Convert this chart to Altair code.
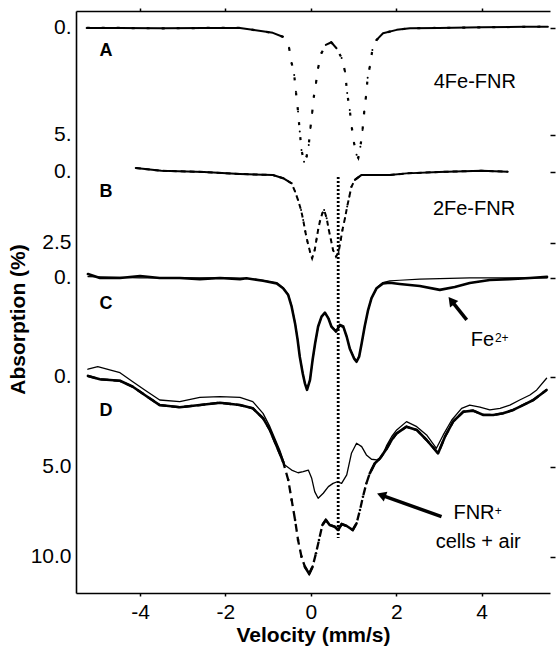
import altair as alt
import pandas as pd

FONT = "Liberation Sans"

# ---------------- data (velocity mm/s, absorption %) ----
A_v = [-5.25, -4.5, -3.5, -2.5, -1.66, -0.89, -0.66, -0.51, -0.45, -0.39, -0.35, -0.30, -0.26,
       -0.22, -0.16, -0.10, -0.05, -0.01, 0.03, 0.07, 0.12, 0.17, 0.25, 0.35, 0.48, 0.60, 0.72,
       0.80, 0.85, 0.91, 0.96, 1.01, 1.07, 1.11, 1.16, 1.21, 1.25, 1.29, 1.33, 1.38, 1.44, 1.54,
       1.69, 2.01, 2.32, 3.0, 4.0, 5.0, 5.55]
A_abs = [0.0, 0.0, 0.02, 0.0, 0.0, 0.23, 0.41, 0.93, 1.64, 2.20, 2.98, 3.91, 4.84,
         5.70, 6.25, 6.01, 5.47, 4.67, 3.97, 3.21, 2.57, 1.87, 1.17, 0.79, 0.67, 0.95, 1.40,
         2.04, 3.04, 3.83, 4.67, 5.37, 5.93, 6.07, 5.55, 4.77, 3.91, 3.21, 2.33, 1.81, 1.03, 0.56,
         0.25, 0.09, 0.01, 0.0, -0.03, -0.05, -0.06]

B_v = [-4.1, -3.5, -2.5, -1.66, -0.89, -0.65, -0.45, -0.37, -0.30, -0.23, -0.18, -0.13, -0.08,
       -0.02, 0.03, 0.09, 0.13, 0.17, 0.21, 0.27, 0.31, 0.37, 0.42, 0.47, 0.52, 0.59, 0.65, 0.70,
       0.74, 0.80, 0.85, 0.90, 0.95, 1.03, 1.18, 1.45, 1.85, 2.24, 3.0, 4.0, 4.61]
B_abs = [-0.14, -0.04, 0.0, 0.07, 0.11, 0.22, 0.40, 0.69, 0.99, 1.34, 1.69, 2.10, 2.45,
         2.81, 3.04, 2.75, 2.39, 2.04, 1.75, 1.45, 1.34, 1.63, 2.04, 2.39, 2.75, 2.98, 2.82, 2.39,
         2.04, 1.62, 1.22, 0.87, 0.52, 0.28, 0.11, 0.11, 0.11, 0.05, 0.0, -0.04, -0.01]

C_v = [-5.22, -4.94, -4.47, -4.0, -3.54, -3.07, -2.6, -2.13, -1.66, -1.51, -1.12, -0.80, -0.65,
       -0.53, -0.45, -0.37, -0.31, -0.26, -0.19, -0.14, -0.09, -0.02, 0.04, 0.10, 0.17, 0.25,
       0.33, 0.41, 0.48, 0.59, 0.68, 0.76, 0.84, 0.91, 1.01, 1.07, 1.13, 1.19, 1.26, 1.34, 1.42,
       1.54, 1.69, 1.85, 2.08, 2.55, 3.02, 3.37, 3.72, 4.19, 4.66, 5.13, 5.53]
C_abs = [-0.14, 0.0, 0.0, -0.07, 0.0, 0.0, 0.04, 0.0, 0.04, 0.01, 0.10, 0.19, 0.36,
         0.60, 1.01, 1.60, 2.18, 2.77, 3.36, 3.71, 3.94, 3.59, 2.89, 2.30, 1.71, 1.36,
         1.22, 1.42, 1.71, 1.89, 1.65, 1.71, 2.07, 2.48, 2.83, 2.95, 2.77, 2.30, 1.71, 1.13, 0.71,
         0.36, 0.19, 0.17, 0.21, 0.28, 0.42, 0.32, 0.18, 0.07, 0.04, 0.0, -0.04]

Cfit_v = [-5.22, -4.0, -3.0, -2.0, -1.51, -1.12, -0.80, -0.65, -0.53, -0.45, -0.37, -0.31, -0.26,
          -0.19, -0.14, -0.09, -0.02, 0.04, 0.10, 0.17, 0.25, 0.33, 0.41, 0.48, 0.59, 0.68, 0.76,
          0.84, 0.91, 1.01, 1.07, 1.13, 1.19, 1.26, 1.34, 1.42, 1.54, 1.69, 1.85, 2.08, 2.55,
          3.02, 3.72, 4.5, 5.53]
Cfit_abs = [-0.05, 0.0, 0.0, 0.0, 0.01, 0.08, 0.18, 0.34, 0.58, 0.98, 1.56, 2.15, 2.74,
            3.33, 3.70, 3.92, 3.60, 2.92, 2.32, 1.74, 1.38, 1.24, 1.40, 1.68, 1.86, 1.70, 1.74,
            2.07, 2.46, 2.80, 2.93, 2.76, 2.30, 1.72, 1.14, 0.72, 0.34, 0.16, 0.10, 0.08, 0.04,
            0.02, 0.0, 0.0, 0.0]

D_v = [-5.22, -4.94, -4.47, -4.17, -3.89, -3.54, -3.07, -2.60, -2.13, -1.66, -1.36, -1.12, -0.96,
       -0.73, -0.65, -0.53, -0.45, -0.37, -0.30, -0.22, -0.14, -0.04, 0.04, 0.12, 0.19, 0.27,
       0.35, 0.44, 0.56, 0.64, 0.72, 0.84, 0.98, 1.07, 1.15, 1.22, 1.30, 1.38, 1.50, 1.62, 1.77,
       1.89, 2.01, 2.24, 2.48, 2.71, 2.98, 3.14, 3.33, 3.57, 3.80, 4.04, 4.27, 4.50, 4.74, 4.97,
       5.21, 5.52]
D_abs = [-0.06, 0.13, 0.21, 0.54, 1.00, 1.56, 1.68, 1.56, 1.43, 1.56, 1.74, 2.29, 2.94,
         4.24, 4.71, 5.72, 6.83, 7.94, 9.06, 9.98, 10.54, 10.94, 10.54, 9.79, 9.06, 8.22,
         7.94, 8.22, 8.32, 8.50, 8.17, 8.28, 8.50, 8.13, 7.39, 6.65, 5.91, 5.35, 4.79, 4.52, 4.00,
         3.50, 3.13, 2.76, 2.94, 3.50, 4.24, 3.32, 2.48, 1.93, 1.87, 2.11, 2.11, 2.02, 1.83, 1.56,
         1.28, 0.72]

Dt_v = [-5.22, -4.99, -4.71, -4.47, -4.17, -3.89, -3.54, -3.07, -2.60, -2.13, -1.66, -1.36, -1.12,
        -0.96, -0.73, -0.61, -0.45, -0.30, -0.18, -0.06, 0.02, 0.09, 0.17, 0.29, 0.41, 0.52,
        0.62, 0.72, 0.84, 0.95, 1.07, 1.19, 1.30, 1.42, 1.54, 1.66, 1.77, 1.89, 2.01, 2.24, 2.48,
        2.71, 2.94, 3.10, 3.30, 3.53, 3.72, 3.96, 4.19, 4.43, 4.66, 4.89, 5.13, 5.29, 5.52]
Dt_abs = [-0.43, -0.57, -0.39, -0.24, 0.26, 0.72, 1.28, 1.37, 1.13, 1.09, 1.13, 1.37, 2.02,
          2.76, 4.06, 4.89, 5.17, 5.32, 5.26, 5.17, 5.63, 6.37, 6.74, 6.46, 6.09, 5.91,
          5.82, 5.91, 5.44, 4.24, 3.68, 3.87, 4.33, 4.57, 4.61, 4.43, 3.83, 3.32, 2.94, 2.48, 2.76,
          3.22, 3.96, 3.22, 2.39, 1.74, 1.56, 1.68, 1.83, 1.74, 1.56, 1.28, 1.00, 0.72, 0.07]

# y-axis tick labels (panel, value, label)
Y_TICK_PANELS = ["A", "A", "B", "B", "C", "D", "D", "D"]
Y_TICK_VALUES = [0, 5, 0, 2.5, 0, 0, 5, 10]
Y_TICK_LABELS = ["0.", "5.", "0.", "2.5", "0.", "0.", "5.0", "10.0"]
X_TICKS = [-4, -2, 0, 2, 4]

MARKER_V = 0.64          # dotted vertical reference line (mm/s)

# ---------------- stacking of the four panels on one vertical axis ----------
PANELS = {"A": (-19.389, 1.1889), "B": (-11.389, 1.5778),
          "C": (-5.5, 1.5778), "D": (0.0, 1.0)}


def stack(panel, a):
    off, k = PANELS[panel]
    return off + k * a


def curve(vs, ab, panel, thr=1e9):
    df = pd.DataFrame({"v": vs, "a": ab})
    df["g"] = stack(panel, df["a"])
    slope = (df["g"].diff().abs() / df["v"].diff()).fillna(0)
    df["grp"] = (slope > thr).cumsum()
    return df


dA = curve(A_v, A_abs, "A", 3.5)
dB = curve(B_v, B_abs, "B", 3.5)
dC = curve(C_v, C_abs, "C")
dCf = curve(Cfit_v, Cfit_abs, "C")
dD = curve(D_v, D_abs, "D", 6.5)
dDt = curve(Dt_v, Dt_abs, "D")

yvals = [stack(p, v) for p, v in zip(Y_TICK_PANELS, Y_TICK_VALUES)]
expr = "''"
for val, lab in zip(yvals, Y_TICK_LABELS):
    expr = f"(abs(datum.value - ({val:.4f})) < 0.05 ? '{lab}' : {expr})"

xscale = alt.Scale(domain=[-5.5, 5.6], nice=False, zero=False)
yscale = alt.Scale(domain=[-20.33, 12], reverse=True, nice=False, zero=False)

X0 = alt.X("v:Q", scale=xscale, axis=None)
Y0 = alt.Y("g:Q", scale=yscale, axis=None)

ax_bottom = alt.Axis(orient="bottom", values=X_TICKS, grid=False,
                     labelExpr="datum.value < 0 ? '-' + abs(datum.value) : '' + datum.value",
                     tickSize=3, tickWidth=1.5, tickColor="black",
                     domainColor="black", domainWidth=1.6,
                     labelFont=FONT, labelFontSize=21, labelColor="black", labelPadding=5,
                     labelFlush=False,
                     title="Velocity (mm/s)", titleFont=FONT, titleFontSize=21,
                     titleFontWeight="bold", titleColor="black", titlePadding=2)
ax_left = alt.Axis(orient="left", values=yvals, labelExpr=expr, grid=False, ticks=False,
                   domainColor="black", domainWidth=1.6, labelOverlap=False,
                   labelFont=FONT, labelFontSize=21, labelColor="black", labelPadding=5,
                   labelFlush=False,
                   title="Absorption (%)", titleFont=FONT, titleFontSize=21,
                   titleFontWeight="bold", titleColor="black",
                   titleAngle=270, titleX=-58, titleY=308,
                   titleAlign="center", titleBaseline="middle")
ax_top = alt.Axis(orient="top", values=X_TICKS, grid=False, labels=False, title=None,
                  tickSize=3, tickWidth=1.5, tickColor="black",
                  domainColor="black", domainWidth=1.6)
ax_right = alt.Axis(orient="right", values=yvals, grid=False, labels=False, title=None,
                    domain=False, tickSize=5, tickWidth=1.5, tickColor="black")


def solid(df, w, x=X0, y=Y0, detail=False):
    enc = dict(x=x, y=y, order="v:Q")
    if detail:
        enc["detail"] = "grp:N"
    return alt.Chart(df).mark_line(color="black", strokeWidth=w,
                                   strokeJoin="round", strokeCap="round").encode(**enc)


def dashed(df, w, dash):
    return alt.Chart(df).mark_line(color="black", strokeWidth=w, strokeDash=dash,
                                   strokeCap="butt").encode(x=X0, y=Y0, order="v:Q")


layers = []
# axes carriers
layers.append(solid(dDt, 1.3,
                    x=alt.X("v:Q", scale=xscale, axis=ax_bottom),
                    y=alt.Y("g:Q", scale=yscale, axis=ax_left)))
layers.append(solid(dCf, 1.2,
                    x=alt.X("v:Q", scale=xscale, axis=ax_top),
                    y=alt.Y("g:Q", scale=yscale, axis=ax_right)))

# D data (thick, dashed where steep)
layers.append(dashed(dD, 2.3, [8, 5]))
layers.append(solid(dD, 2.6, detail=True))
# C data
layers.append(solid(dC, 2.6))
# B
layers.append(dashed(dB, 2.0, [5, 4]))
layers.append(solid(dB, 2.0, detail=True))
# A
layers.append(dashed(dA, 2.2, [3, 12]))
layers.append(solid(dA, 2.0, detail=True))

# dotted vertical marker
mk = pd.DataFrame({"v": [MARKER_V], "g": [stack("B", 0.18)], "g2": [stack("D", 8.94)]})
layers.append(alt.Chart(mk).mark_rule(color="black", strokeWidth=2.8, strokeDash=[2, 2])
              .encode(x=X0, y=Y0, y2="g2:Q"))

# annotations
letters = pd.DataFrame({"t": ["A", "B", "C", "D"], "v": [-4.80] * 4,
                        "g": [-18.11, -10.25, -4.06, 1.89]})
layers.append(alt.Chart(letters).mark_text(font=FONT, fontSize=18, fontWeight="bold",
                                           color="black", align="center", baseline="middle")
              .encode(x=X0, y=Y0, text="t:N"))
labels = pd.DataFrame({"t": ["4Fe-FNR", "2Fe-FNR", "Fe", "FNR", "cells + air"],
                       "v": [3.84, 3.82, 4.02, 3.82, 3.92],
                       "g": [-16.36, -9.31, -2.03, 7.58, 9.14]})
layers.append(alt.Chart(labels).mark_text(font=FONT, fontSize=20, color="black",
                                          align="center", baseline="middle")
              .encode(x=X0, y=Y0, text="t:N"))
sups = pd.DataFrame({"t": ["2+", "+"], "v": [4.47, 4.39], "g": [-2.17, 7.42]})
layers.append(alt.Chart(sups).mark_text(font=FONT, fontSize=12, color="black",
                                        align="center", baseline="middle")
              .encode(x=X0, y=Y0, text="t:N"))

# arrows
arrows = pd.DataFrame({"v": [3.65, 3.06], "g": [-3.17, 7.76],
                       "v2": [3.29, 1.65], "g2": [-4.24, 6.56]})
layers.append(alt.Chart(arrows).mark_rule(color="black", strokeWidth=3.5)
              .encode(x=X0, y=Y0, x2="v2:Q", y2="g2:Q"))
headC = pd.DataFrame({"v": [3.29], "g": [-4.24]})
headD = pd.DataFrame({"v": [1.65], "g": [6.56]})
layers.append(alt.Chart(headC).mark_point(shape="triangle-up", filled=True, size=110,
                                          color="black", opacity=1, angle=322)
              .encode(x=X0, y=Y0))
layers.append(alt.Chart(headD).mark_point(shape="triangle-up", filled=True, size=110,
                                          color="black", opacity=1, angle=290)
              .encode(x=X0, y=Y0))

chart = (alt.layer(*layers)
         .resolve_axis(x="independent", y="independent")
         .properties(width=474, height=582,
                     autosize=alt.AutoSizeParams(type="none"),
                     padding={"left": 76, "top": 11, "right": 7, "bottom": 53},
                     background="white")
         .configure_view(stroke=None))

chart.save("out.html", embed_options={"renderer": "svg", "actions": False})
